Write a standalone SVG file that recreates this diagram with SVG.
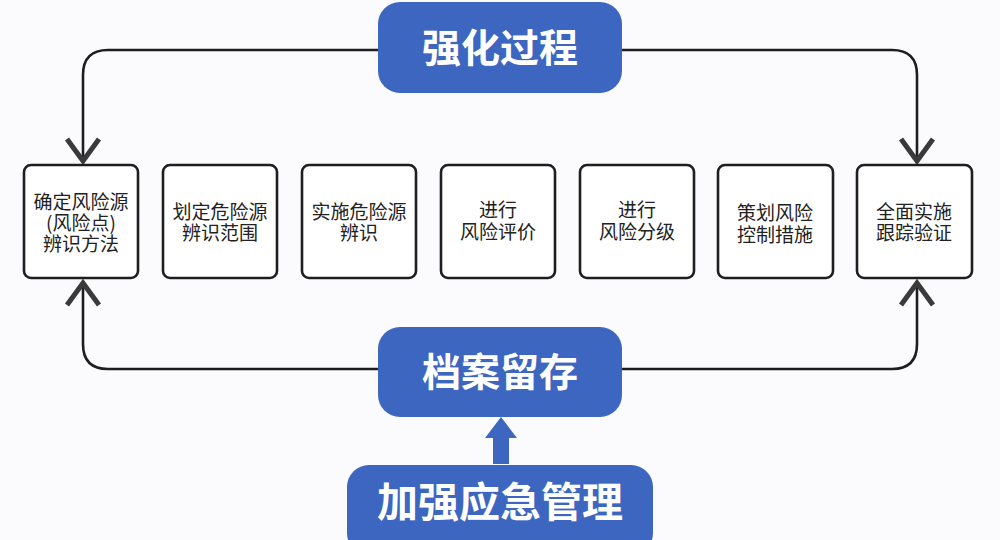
<svg xmlns="http://www.w3.org/2000/svg" width="1000" height="540" viewBox="0 0 1000 540">
<defs>
<style>
.bg{fill:#fbfbfd}
.box{fill:#ffffff;stroke:#1e1e1e;stroke-width:2.6}
.blue{fill:#3d66c0}
.bt{fill:#ffffff;font-family:"Noto Sans CJK SC","Noto Sans",sans-serif;font-weight:bold;text-anchor:middle}
.nt{fill:#222222;font-family:"Noto Sans CJK SC","Noto Sans",sans-serif;font-size:19px;text-anchor:middle}
.ln{fill:none;stroke:#1e1e1e;stroke-width:2.6}
.hd{fill:none;stroke:#3a3a3a;stroke-width:5;stroke-linejoin:miter}
</style>
</defs>
<rect class="bg" x="0" y="0" width="1000" height="540"/>
<g id="connectors">
<path class="ln" d="M378 50 H108 Q83 50 83 75 V160"/>
<path class="hd" d="M67 139 L83 161 L99 139"/>
<path class="ln" d="M622 50 H892 Q917 50 917 75 V160"/>
<path class="hd" d="M901 139 L917 161 L933 139"/>
<path class="ln" d="M378 369 H108 Q83 369 83 344 V284"/>
<path class="hd" d="M67 305 L83 283 L99 305"/>
<path class="ln" d="M622 369 H892 Q917 369 917 344 V284"/>
<path class="hd" d="M901 305 L917 283 L933 305"/>
<path class="blue" d="M493 464 V438 H485 L501 417 L517 438 H509 V464 Z"/>
</g>
<g id="top">
<rect class="blue" x="378" y="2" width="244" height="91" rx="22"/>
<text class="bt" x="500" y="62" font-size="39">强化过程</text>
</g>
<g id="archive">
<rect class="blue" x="378" y="327" width="244" height="90" rx="22"/>
<text class="bt" x="500" y="386" font-size="39">档案留存</text>
</g>
<g id="emergency">
<rect class="blue" x="347" y="465" width="306" height="90" rx="22"/>
<text class="bt" x="500" y="517" font-size="41">加强应急管理</text>
</g>
<g id="n1">
<rect class="box" x="24" y="165" width="114" height="113" rx="7"/>
<text class="nt" x="81" y="209">确定风险源</text>
<text class="nt" x="81" y="230">(风险点)</text>
<text class="nt" x="81" y="251">辨识方法</text>
</g>
<g id="n2">
<rect class="box" x="163" y="165" width="114" height="113" rx="7"/>
<text class="nt" x="220" y="219">划定危险源</text>
<text class="nt" x="220" y="240">辨识范围</text>
</g>
<g id="n3">
<rect class="box" x="302" y="165" width="114" height="113" rx="7"/>
<text class="nt" x="359" y="219">实施危险源</text>
<text class="nt" x="359" y="240">辨识</text>
</g>
<g id="n4">
<rect class="box" x="441" y="165" width="114" height="113" rx="7"/>
<text class="nt" x="498" y="217">进行</text>
<text class="nt" x="498" y="239">风险评价</text>
</g>
<g id="n5">
<rect class="box" x="580" y="165" width="114" height="113" rx="7"/>
<text class="nt" x="637" y="217">进行</text>
<text class="nt" x="637" y="239">风险分级</text>
</g>
<g id="n6">
<rect class="box" x="718" y="165" width="115" height="113" rx="7"/>
<text class="nt" x="775" y="220">策划风险</text>
<text class="nt" x="775" y="242">控制措施</text>
</g>
<g id="n7">
<rect class="box" x="857" y="165" width="115" height="113" rx="7"/>
<text class="nt" x="914" y="219">全面实施</text>
<text class="nt" x="914" y="240">跟踪验证</text>
</g>
</svg>
